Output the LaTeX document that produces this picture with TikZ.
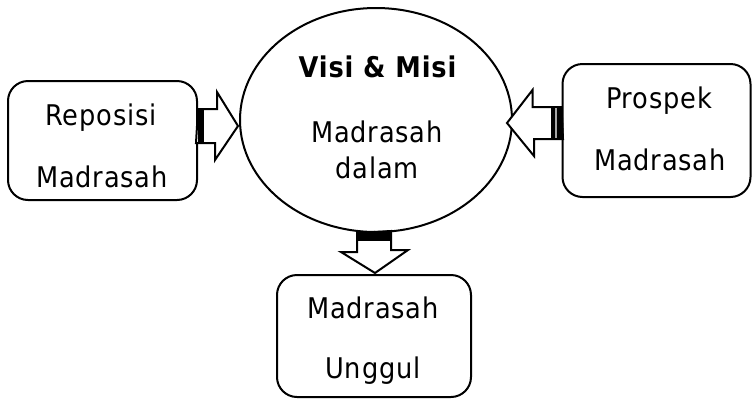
\documentclass[tikz,border=0pt]{standalone}
\usepackage{fontspec}
\setmainfont[LetterSpace=3]{DejaVu Sans Condensed}
\usetikzlibrary{calc,shapes.geometric}
\begin{document}
\begin{tikzpicture}[x=1pt,y=-1pt,
  box/.style={draw,line width=2pt,rounded corners=20pt,inner sep=0pt},
  oval/.style={draw,ellipse,line width=2pt,inner sep=0pt},
  txt/.style={anchor=base,inner sep=0pt,font=\fontsize{28.5}{33}\selectfont},
  btxt/.style={txt,font=\fontsize{28.5}{33}\selectfont\bfseries},
  blk/.style={draw,line width=2pt,fill=white,line join=miter},
  stripe/.style={fill=black}]
\useasboundingbox (0,0) rectangle (753,400);
\node[box,minimum width=189pt,minimum height=119pt] (left) at (102.5,140.5) {};
\node[box,minimum width=188pt,minimum height=133pt] (right) at (656.5,130.5) {};
\node[box,minimum width=194pt,minimum height=122pt] (bot) at (374,336) {};
\node[oval,minimum width=272pt,minimum height=224pt] (ve) at (376,120) {};
% texts
\node[txt] (l1) at (101,125) {Reposisi};
\node[txt] (l2) at (102,187) {Madrasah};
\node[txt] (r1) at (659,108) {Prospek};
\node[txt] (r2) at (660,170) {Madrasah};
\node[btxt] (e1) at (377.5,77) {Visi \& Misi};
\node[txt] (e2) at (377,142) {Madrasah};
\node[txt] (e3) at (377,178) {dalam};
\node[txt] (b1) at (373,318) {Madrasah};
\node[txt] (b2) at (373,378) {Unggul};
% left block arrow
\coordinate (lt) at ($(ve.west)+(-1,6)$);
\draw[blk] ($(left.east|-lt)+(0,-17)$) -- ++(19,0) -- ++(0,-17) -- (lt)
  -- ++(-23,34) -- ++(0,-17) -- ++(-19,0) -- cycle;
\fill[stripe] ($(left.east|-lt)+(0,-17)$) rectangle ++(6,34);
% right block arrow
\coordinate (rt) at ($(ve.east)+(-6,3)$);
\draw[blk] ($(right.west|-rt)+(0,-16)$) -- ++(-29,0) -- ++(0,-17) -- (rt)
  -- ++(27,33) -- ++(0,-17) -- ++(29,0) -- cycle;
\fill[stripe] ($(right.west|-rt)+(-11,-16)$) rectangle ++(11,32);
\draw[gray!70,line width=1.5pt] ($(right.west|-rt)+(-5.5,-15)$) -- ++(0,30);
% bottom block arrow
\coordinate (bt) at ($(bot.north)+(1,-1)$);
\draw[blk] ($(ve.south)+(-19,0)$) -- ++(0,19) -- ++(-16,0) -- (bt)
  -- ++(33,-23) -- ++(-17,0) -- ++(0,-19) -- cycle;
\fill[stripe] ($(ve.south)+(-19,-1)$) rectangle ++(34,9);
\end{tikzpicture}
\end{document}
